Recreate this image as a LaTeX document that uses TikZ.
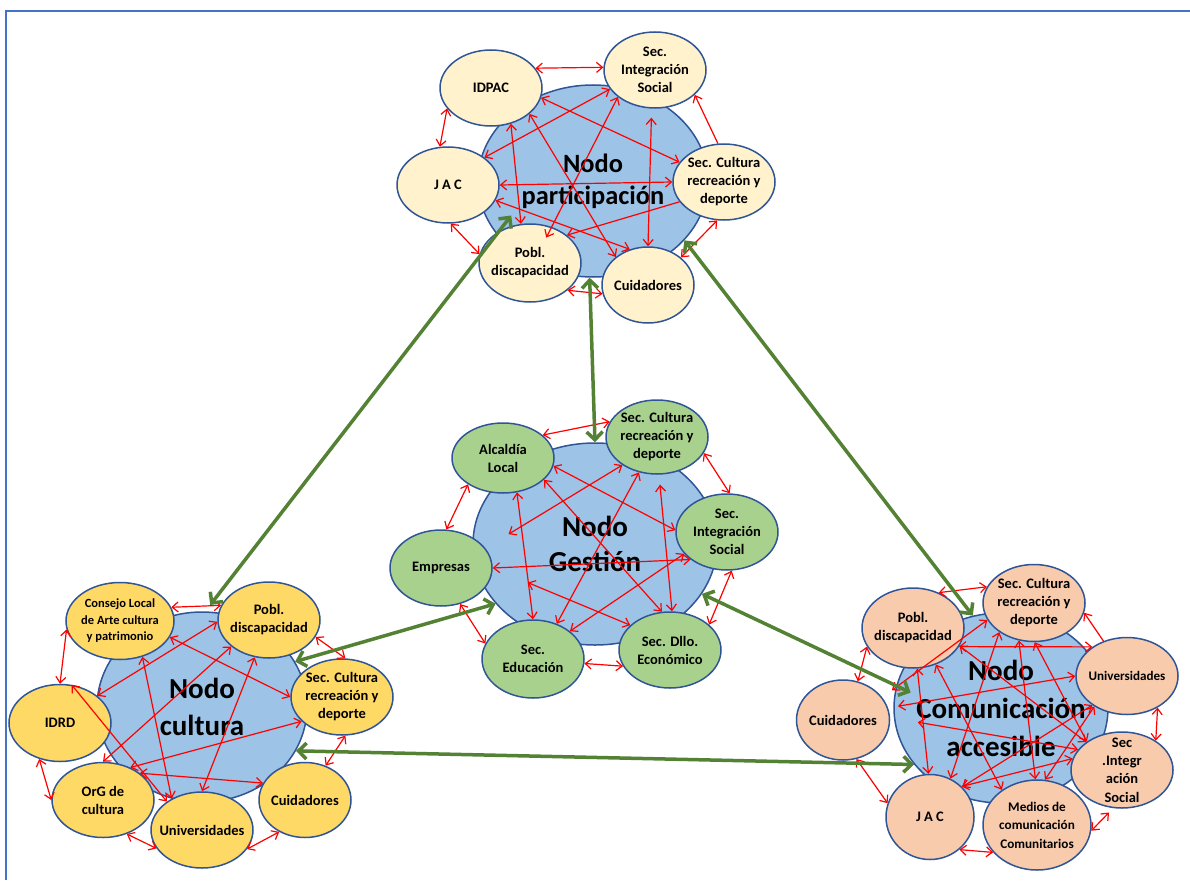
\documentclass[tikz,border=0pt]{standalone}
\usepackage{fontspec}
\setmainfont{Carlito}
\usetikzlibrary{shapes.geometric,arrows.meta}
\definecolor{azulnodo}{HTML}{9DC3E6}
\definecolor{bordeazul}{HTML}{2F5597}
\definecolor{marco}{HTML}{4472C4}
\definecolor{crema}{HTML}{FFF2CC}
\definecolor{verdeclaro}{HTML}{A9D18E}
\definecolor{amarillo}{HTML}{FFD966}
\definecolor{salmon}{HTML}{F8CBAD}
\definecolor{verdeoscuro}{HTML}{548235}
\begin{document}
\begin{tikzpicture}[x=1pt,y=-1pt,>={Straight Barb[length=6pt,width=10pt]},
	nodo/.style={ellipse,draw=bordeazul,line width=1.5pt,fill=azulnodo,inner sep=-30pt,align=center,font=\fontsize{29}{37}\selectfont\bfseries},
	actor/.style={ellipse,draw=bordeazul,line width=1.5pt,fill=#1,inner sep=-14pt,minimum width=102,minimum height=76,align=center,font=\fontsize{14.5}{18}\selectfont\bfseries},
	rel/.style={<->,red,line width=1.2pt},
	enlace/.style={<->,verdeoscuro,line width=3.5pt,>={Straight Barb[length=8pt,width=16pt]}}]
\useasboundingbox (0,0) rectangle (1190,880);
\draw[marco,line width=2pt] (6,880)--(6,11)--(1190,11);

\node[nodo,minimum width=230,minimum height=192,font=\fontsize{26.4}{32}\selectfont\bfseries] (pN) at (593,181) {Nodo\\participación};
\node[nodo,minimum width=244,minimum height=202,font=\fontsize{29}{35}\selectfont\bfseries] (gN) at (595,544) {Nodo\\Gestión};
\node[nodo,minimum width=210,minimum height=190] (cN) at (202,707) {Nodo\\cultura};
\node[nodo,minimum width=214,minimum height=190,font=\fontsize{29}{38}\selectfont\bfseries] (coN) at (1001,708) {Nodo\\Comunicación\\accesible};

\node[actor=crema] (pIDPAC) at (491,88) {IDPAC};
\node[actor=crema] (pSIS) at (655,70) {Sec.\\Integración\\Social};
\node[actor=crema] (pJAC) at (448,185) {J A C};
\node[actor=crema] (pSC) at (724,182) {Sec. Cultura\\recreación y\\deporte};
\node[actor=crema,minimum height=78] (pPobl) at (530,263) {Pobl.\\discapacidad};
\node[actor=crema,minimum width=92] (pCuid) at (648,285) {Cuidadores};

\node[actor=verdeclaro,minimum height=70] (gAL) at (503,458) {Alcaldía\\Local};
\node[actor=verdeclaro,minimum height=74] (gSC) at (657,437) {Sec. Cultura\\recreación y\\deporte};
\node[actor=verdeclaro] (gSIS) at (727,532) {Sec.\\Integración\\Social};
\node[actor=verdeclaro] (gEmp) at (441,568) {Empresas};
\node[actor=verdeclaro,minimum height=78] (gEdu) at (533,659) {Sec.\\Educación};
\node[actor=verdeclaro] (gDll) at (670,650) {Sec. Dllo.\\Económico};

\node[actor=amarillo,minimum width=108,minimum height=77,font=\fontsize{12.5}{16.5}\selectfont\bfseries] (cCons) at (120,621) {Consejo Local\\de Arte cultura\\y patrimonio};
\node[actor=amarillo] (cPobl) at (269,620) {Pobl.\\discapacidad};
\node[actor=amarillo] (cSC) at (342,697) {Sec. Cultura\\recreación y\\deporte};
\node[actor=amarillo,minimum height=77] (cIDRD) at (60,723) {IDRD};
\node[actor=amarillo,minimum height=75] (cOrG) at (103,800) {OrG de\\cultura};
\node[actor=amarillo] (cUni) at (202,830) {Universidades};
\node[actor=amarillo,minimum width=92,minimum height=75] (cCuid) at (305,800) {Cuidadores};

\node[actor=salmon,minimum height=80] (coPobl) at (913,628) {Pobl.\\discapacidad};
\node[actor=salmon,minimum height=77] (coSC) at (1034,603) {Sec. Cultura\\recreación y\\deporte};
\node[actor=salmon,minimum height=77,font=\fontsize{13.1}{18}\selectfont\bfseries] (coUni) at (1127,676) {Universidades};
\node[actor=salmon,font=\fontsize{14.5}{18.3}\selectfont\bfseries] (coSIS) at (1122,770) {Sec\\.Integr\\ación\\Social};
\node[actor=salmon,minimum width=108,minimum height=90,font=\fontsize{13.2}{18.5}\selectfont\bfseries] (coMed) at (1037,825) {Medios de\\comunicación\\Comunitarios};
\node[actor=salmon,minimum width=88,minimum height=85] (coJAC) at (930,817) {J A C};
\node[actor=salmon,minimum width=93,minimum height=80] (coCuid) at (843,720) {Cuidadores};

\draw[rel] (pIDPAC.24)--(pSIS.177);
\draw[rel] (pIDPAC.205)--(pJAC.102);
\draw[rel] (pJAC.274)--(pPobl.170);
\draw[rel] (pPobl.324)--(pCuid.191);
\draw[rel] (pCuid.40)--(pSC.260);
\draw[rel,->] (pSC.99)--(pSIS.328);
\draw[rel] (pJAC.0)--(pSC.180);
\draw[rel] (pIDPAC.349)--(pSC.156);
\draw[rel] (pJAC.37)--(pSIS.203);
\draw[rel] (pIDPAC.326)--(pCuid.139);
\draw[rel] (pIDPAC.299)--(pPobl.103);
\draw[rel,shorten >=-12pt] (pSIS.216)--(pPobl.59);
\draw[rel,shorten <=9pt] (pSIS.265)--(pCuid.90);
\draw[rel] (pJAC.342)--(pCuid.117);
\draw[rel,->] (pSC.204)--(pPobl.37);

\draw[rel] (gAL.30)--(gSC.162);
\draw[rel] (gSC.341)--(gSIS.86);
\draw[rel] (gSIS.277)--(gDll.33);
\draw[rel] (gEdu.355)--(gDll.199);
\draw[rel] (gEdu.162)--(gEmp.298);
\draw[rel] (gEmp.82)--(gAL.217);
\draw[rel] (gAL.351)--(gSIS.178);
\draw[rel] (gAL.332)--(gDll.102);
\draw[rel] (gAL.292)--(gEdu.90);
\draw[rel,shorten >=27pt] (gSC.219)--(gEmp.24);
\draw[rel] (gSC.243)--(gEdu.56);
\draw[rel,shorten <=10pt] (gSC.273)--(gDll.87);
\draw[rel] (gEmp.0)--(gSIS.217);
\draw[rel] (gSIS.207)--(gEdu.37);
\draw[rel,shorten >=38pt] (gDll.148)--(gEmp.0);

\draw[rel] (cCons.15)--(cPobl.163);
\draw[rel] (cPobl.340)--(cSC.85);
\draw[rel] (cSC.275)--(cCuid.59);
\draw[rel] (cCuid.231)--(cUni.337);
\draw[rel] (cUni.202)--(cOrG.305);
\draw[rel] (cOrG.180)--(cIDRD.240);
\draw[rel] (cIDRD.90)--(cCons.189);
\draw[rel] (cCons.342)--(cSC.180);
\draw[rel] (cPobl.182)--(cIDRD.36);
\draw[rel] (cPobl.215)--(cOrG.90);
\draw[rel] (cPobl.249)--(cUni.90);
\draw[rel] (cCons.302)--(cUni.134);
\draw[rel] (cIDRD.73)--(cUni.141);
\draw[rel] (cOrG.50)--(cSC.211);
\draw[rel] (cOrG.36)--(cCuid.158);

\draw[rel] (coPobl.54)--(coSC.161);
\draw[rel,->] (coUni.124)--(coSC.349);
\draw[rel] (coUni.314)--(coSIS.41);
\draw[rel,shorten <=6pt] (coSIS.257)--(coMed.354);
\draw[rel] (coMed.212)--(coJAC.312);
\draw[rel] (coJAC.162)--(coCuid.289);
\draw[rel] (coCuid.69)--(coPobl.202);
\draw[rel] (coPobl.338)--(coUni.140);
\draw[rel,shorten >=10pt] (coUni.180)--(coCuid.15);
\draw[rel,shorten >=12pt] (coSC.200)--(coCuid.30);
\draw[rel] (coPobl.276)--(coJAC.92);
\draw[rel] (coPobl.302)--(coMed.135);
\draw[rel,shorten <=28pt] (coCuid.3)--(coSIS.155);
\draw[rel] (coPobl.339)--(coSIS.142);
\draw[rel] (coSC.220)--(coJAC.62);
\draw[rel] (coSC.248)--(coMed.92);
\draw[rel] (coSC.271)--(coSIS.141);
\draw[rel] (coUni.220)--(coJAC.43);
\draw[rel] (coUni.223)--(coMed.80);
\draw[rel] (coSIS.167)--(coJAC.44);

\draw[enlace,shorten <=-24pt,shorten >=8pt] (pN.209)--(cN.88);
\draw[enlace] (pN.268)--(gN.90);
\draw[enlace] (pN.327)--(coN.107);
\draw[enlace] (gN.211)--(cN.26);
\draw[enlace,shorten >=-16pt] (gN.335)--(coN.168);
\draw[enlace] (cN.335)--(coN.213);
\end{tikzpicture}
\end{document}
